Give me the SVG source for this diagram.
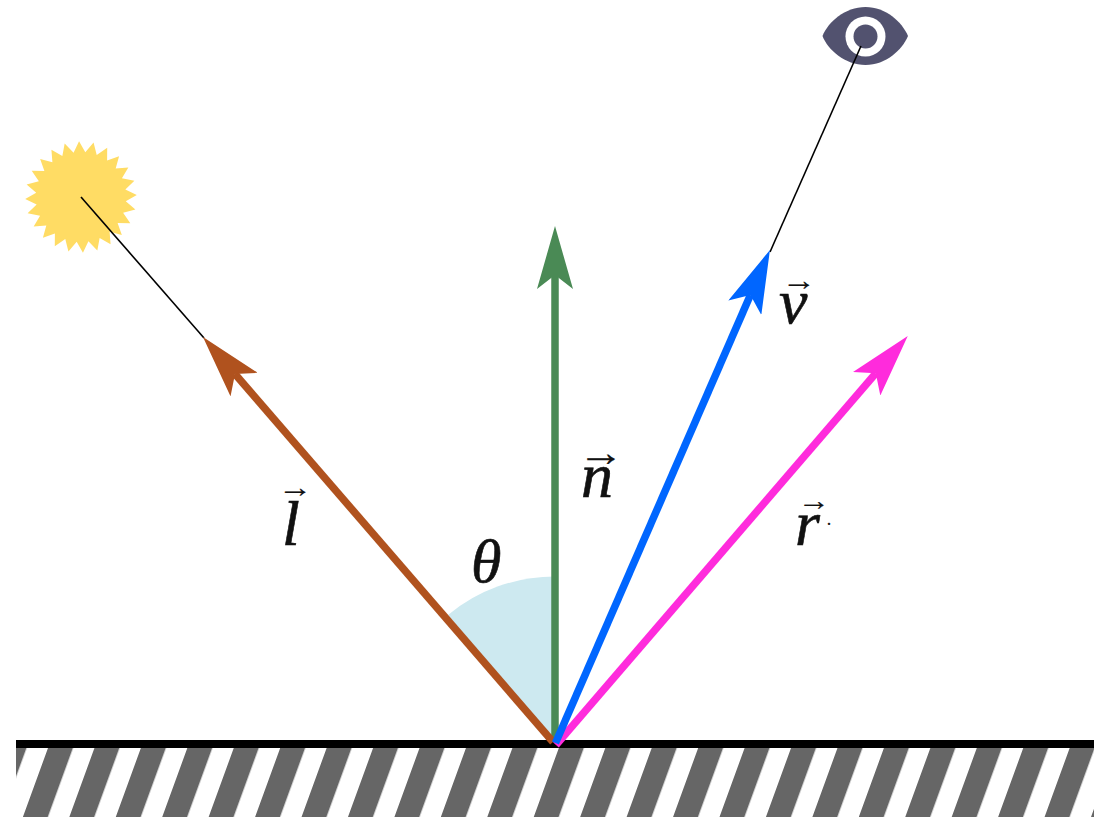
<svg xmlns="http://www.w3.org/2000/svg" width="1105" height="818" viewBox="0 0 1105 818">
<style>
.vec{font-family:"Liberation Serif","DejaVu Serif",serif;font-style:italic;font-size:64px;fill:#111;stroke:#111;stroke-width:.6}
.arr{font-family:"Liberation Serif","DejaVu Sans",sans-serif;fill:#111;stroke:#111;stroke-width:.2}
.shaft{fill:none;stroke-width:7.5}
.thin{stroke:#000;stroke-width:1.6;fill:none}
</style>
<defs>
<pattern id="hatch" patternUnits="userSpaceOnUse" width="46.44" height="70" patternTransform="translate(48 748) skewX(-20)">
<rect x="0" y="0" width="25" height="70" fill="#666"/>
</pattern>
<marker id="mGreen" markerUnits="userSpaceOnUse" markerWidth="63" markerHeight="36" refX="14" refY="18" orient="auto"><path d="M0,0L63,18L0,36L14,18Z" fill="#4a8a55"/></marker>
<marker id="mBrown" markerUnits="userSpaceOnUse" markerWidth="63" markerHeight="36" refX="14" refY="18" orient="auto"><path d="M0,0L63,18L0,36L14,18Z" fill="#b0521e"/></marker>
<marker id="mBlue" markerUnits="userSpaceOnUse" markerWidth="63" markerHeight="36" refX="14" refY="18" orient="auto"><path d="M0,0L63,18L0,36L14,18Z" fill="#0066ff"/></marker>
<marker id="mPink" markerUnits="userSpaceOnUse" markerWidth="63" markerHeight="36" refX="14" refY="18" orient="auto"><path d="M0,0L63,18L0,36L14,18Z" fill="#ff2bdc"/></marker>
</defs>
<rect width="1105" height="818" fill="#fff"/>
<g id="surface">
<rect x="16" y="748" width="1078" height="69" fill="url(#hatch)"/>
<rect x="16" y="740" width="1078" height="8" fill="#000"/>
</g>
<g id="angle">
<path d="M555,743L448,615A166.8,166.8 0 0 1 555,576.5Z" fill="#cde9f0"/>
<text class="vec" x="471" y="582" style="font-size:62px">θ</text>
</g>
<g id="sun">
<polygon transform="translate(81 197) scale(1.015)" fill="#ffdc64" points="54.97,-1.92 44.1,4.25 53.59,12.38 41.5,15.5 48.56,25.82 36.07,25.72 40.23,37.51 28.18,34.18 29.14,46.64 18.37,40.31 16.08,52.6 7.31,43.69 1.92,54.97 -4.25,44.1 -12.38,53.59 -15.5,41.5 -25.82,48.56 -25.72,36.07 -37.51,40.23 -34.18,28.18 -46.64,29.14 -40.31,18.37 -52.6,16.08 -43.69,7.31 -54.97,1.92 -44.1,-4.25 -53.59,-12.38 -41.5,-15.5 -48.56,-25.82 -36.07,-25.72 -40.23,-37.51 -28.18,-34.18 -29.14,-46.64 -18.37,-40.31 -16.08,-52.6 -7.31,-43.69 -1.92,-54.97 4.25,-44.1 12.38,-53.59 15.5,-41.5 25.82,-48.56 25.72,-36.07 37.51,-40.23 34.18,-28.18 46.64,-29.14 40.31,-18.37 52.6,-16.08 43.69,-7.31"/>
</g>
<g id="eye">
<path d="M822.5,36C828,22 845,7 865.5,7C886,7 902,22 908,36C902,50 886,65 865.5,65C845,65 828,50 822.5,36Z" fill="#52526f"/>
<circle cx="865.5" cy="36.5" r="20" fill="#fff"/>
<circle cx="865.5" cy="36.5" r="12" fill="#52526f"/>
</g>
<g id="connectors">
<line class="thin" x1="81" y1="197" x2="204" y2="338"/>
<line class="thin" x1="861" y1="46" x2="770" y2="252"/>
<path class="shaft" d="M555,742V275" stroke="#4a8a55" marker-end="url(#mGreen)"/>
<path class="shaft" d="M553,742L235,374" stroke="#b0521e" marker-end="url(#mBrown)"/>
<path class="shaft" d="M556,745L875.8,373.2" stroke="#ff2bdc" marker-end="url(#mPink)"/>
<path class="shaft" d="M555.5,743L750.4,294.9" stroke="#0066ff" marker-end="url(#mBlue)"/>
</g>
<g id="labels">
<text class="vec" x="282" y="545">l</text>
<text class="arr" transform="translate(278 496.6) scale(1.15 1)" font-size="30">→</text>
<text class="vec" x="581" y="497">n</text>
<text class="arr" transform="translate(578 466) scale(1.15 1)" font-size="40">→</text>
<text class="vec" x="779" y="323">v</text>
<text class="arr" transform="translate(781.8 289.6) scale(1.15 1)" font-size="30">→</text>
<text class="vec" x="795" y="545">r</text>
<text class="arr" transform="translate(798 510) scale(1.15 1)" font-size="28">→</text>
<text class="arr" x="826" y="530" font-size="18">·</text>
</g>
</svg>
